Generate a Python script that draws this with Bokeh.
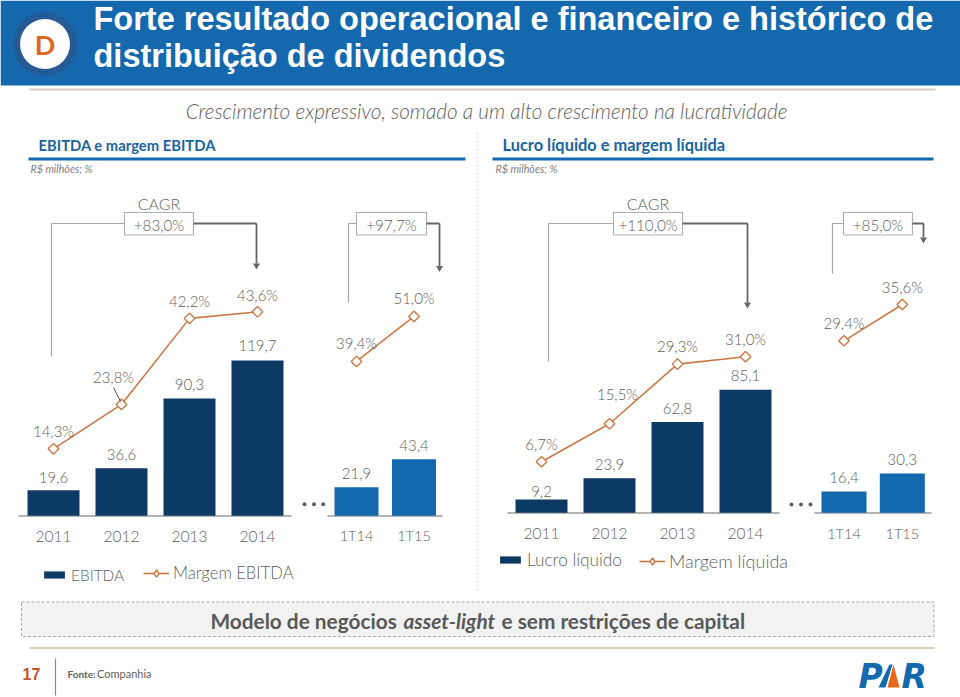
import math
from bokeh.plotting import figure
from bokeh.models import Range1d, ColumnDataSource, Legend, LegendItem
from bokeh.core.properties import value
from bokeh.embed import file_html
from bokeh.resources import INLINE

# ---------- data ----------
years = ["2011", "2012", "2013", "2014"]
quarters = ["1T14", "1T15"]
ebitda = [19.6, 36.6, 90.3, 119.7]
ebitda_margin = [14.3, 23.8, 42.2, 43.6]
ebitda_q = [21.9, 43.4]
ebitda_margin_q = [39.4, 51.0]
lucro = [9.2, 23.9, 62.8, 85.1]
lucro_margin = [6.7, 15.5, 29.3, 31.0]
lucro_q = [16.4, 30.3]
lucro_margin_q = [29.4, 35.6]

TITLE1 = "Forte resultado operacional e financeiro e histórico de"
TITLE2 = "distribuição de dividendos"
SUBTITLE = "Crescimento expressivo, somado a um alto crescimento na lucratividade"

# ---------- style ----------
W, H = 960, 697
FONT = "Lato"
LIGHT = "Lato Light"
GREY = "#5F5F5F"
DARK = "#0C3A64"
BLUE = "#1269AE"
ORANGE = "#CC7A45"
TAN = "#DCCDBB"
GLINE = "#A6A6A6"
DLINE = "#666666"


def comma(v, suffix=""):
    return f"{v:.1f}".replace(".", ",") + suffix


p = figure(width=W, height=H, output_backend="svg", toolbar_location=None,
           x_range=Range1d(0, W), y_range=Range1d(H, 0),
           x_axis_location=None, y_axis_location=None,
           min_border=0, outline_line_color=None, background_fill_color="white",
           border_fill_color="white")
p.grid.visible = False


def txt(x, y, s, size, color=GREY, style="normal", align="left", font=FONT, **kw):
    p.text([x], [y], text=[s], text_font=value(font), text_font_size=f"{size}px",
           text_color=color, text_font_style=style, text_align=align,
           text_baseline="middle", **kw)


def hline(x0, x1, y, color, width=1, dash="solid"):
    p.line([x0, x1], [y, y], line_color=color, line_width=width, line_dash=dash)


def vline(x, y0, y1, color, width=1, dash="solid"):
    p.line([x, x], [y0, y1], line_color=color, line_width=width, line_dash=dash)


# ---------- header ----------
p.quad(left=[0], right=[W], top=[0], bottom=[85], fill_color="#1469AE", line_color=None)
hline(29, 935, 89, TAN, 2)
p.circle([44.5], [43.5], radius=[32], fill_color="#245A96", line_color=None)
p.circle([44.5], [43.5], radius=[25], fill_color="white", line_color=None)
txt(44.5, 44, "D", 27, "#E0661F", "bold", "center")
txt(93, 18.5, TITLE1, 32.5, "white", "bold", font="Liberation Sans")
txt(93, 55, TITLE2, 32.5, "white", "bold", font="Liberation Sans")
txt(486, 110, SUBTITLE, 20.7, GREY, "italic", "center", font=LIGHT)

# ---------- section titles ----------
txt(38, 144, "EBITDA e margem EBITDA", 14.8, "#1A659F", "bold")
txt(502, 144, "Lucro líquido e margem líquida", 16.4, "#1A659F", "bold")
hline(28, 465, 158.5, BLUE, 3)
hline(492, 933, 158.5, BLUE, 3)
txt(30, 168, "R$ milhões; %", 10.7, "#808080", "italic")
txt(495, 168, "R$ milhões; %", 10.7, "#808080", "italic")
vline(477, 132, 590, "#E4E4E4", 2, "2 2")


# ---------- CAGR brackets ----------
def bracket(left_x, left_bottom, box0, box1, right_x, tip, label, cagr=False):
    vline(left_x, 223, left_bottom, GLINE, 1.2)
    hline(left_x, box0, 223, GLINE, 1.2)
    p.quad(left=[box0], right=[box1], top=[212], bottom=[234.5], fill_color="white",
           line_color="#B0B0B0", line_width=1.2)
    hline(box1, right_x, 223, DLINE, 1.8)
    vline(right_x, 223, tip - 5, DLINE, 1.8)
    p.scatter([right_x], [tip - 3], marker="inverted_triangle", size=7,
              fill_color=DLINE, line_color=None)
    txt((box0 + box1) / 2, 224, label, 15.2, GREY, align="center", font=LIGHT)
    if cagr:
        txt((box0 + box1) / 2, 203, "CAGR", 16, GREY, align="center", font=LIGHT)


bracket(51, 356, 124, 193, 256, 268, "+83,0%", True)
bracket(348, 302, 356, 426, 439, 270.5, "+97,7%")
bracket(548, 361, 613, 682, 747, 307, "+110,0%", True)
bracket(832, 273, 843, 912, 923, 242, "+85,0%")


# ---------- chart groups ----------
def add_range(kind, name, start, end):
    if kind == "x":
        p.extra_x_ranges[name] = Range1d(start, end)
    else:
        p.extra_y_ranges[name] = Range1d(start, end)


def group(name, cats, bars, margin, x0, step, bar_w, base, bar_scale, zero, line_scale,
          color, base_x0, base_x1, tick_y, tick_size, bar_dy, line_off):
    xn, yb, yl = f"x_{name}", f"yb_{name}", f"yl_{name}"
    add_range("x", xn, (0 - x0) / step, (W - x0) / step)
    add_range("y", yb, (base - H) / bar_scale, base / bar_scale)
    add_range("y", yl, (zero - H) / line_scale, zero / line_scale)
    idx = list(range(len(cats)))
    src = ColumnDataSource(dict(i=idx, bar=bars, margin=margin, cat=cats,
                                ty=[tick_y] * len(cats),
                                barl=[comma(v) for v in bars],
                                marl=[comma(v, "%") for v in margin],
                                dx=[o[0] for o in line_off], dy=[o[1] for o in line_off],
                                bdy=bar_dy))
    hline(base_x0, base_x1, base + .3, "#999999", 1.5)
    r_bar = p.vbar(x="i", top="bar", bottom=0, width=bar_w / step, source=src,
                   fill_color=color, line_color=None, x_range_name=xn, y_range_name=yb)
    p.text(x="i", y="bar", text="barl", source=src, x_range_name=xn, y_range_name=yb,
           text_font=value(LIGHT), text_font_size="15px", text_color=GREY,
           text_align="center", text_baseline="middle", y_offset="bdy")
    r_line = p.line(x="i", y="margin", source=src, line_color=ORANGE, line_width=1.6,
                    x_range_name=xn, y_range_name=yl)
    p.scatter(x="i", y="margin", source=src, marker="square", angle=math.pi / 4, size=7.5,
              fill_color="white", line_color=ORANGE, line_width=1.4,
              x_range_name=xn, y_range_name=yl)
    p.text(x="i", y="margin", text="marl", source=src, x_range_name=xn, y_range_name=yl,
           text_font=value(LIGHT), text_font_size="15px", text_color=GREY,
           text_align="center", text_baseline="middle", x_offset="dx", y_offset="dy")
    p.text(x="i", y="ty", text="cat", source=src, x_range_name=xn,
           text_font=value(LIGHT), text_font_size=f"{tick_size}px", text_color=GREY,
           text_align="center", text_baseline="middle")
    return r_bar, r_line


l_bar, l_line = group(
    "ea", years, ebitda, ebitda_margin, 53, 68, 52, 515.3, 1.298, 515.2, 4.676, DARK, 18, 291, 536, 15.5,
    [-13, -14, -14, -15], [(0, -18), (-8, -27), (0, -17), (0, -17)])
group("eq", quarters, ebitda_q, ebitda_margin_q, 356, 57.5, 44, 515.3, 1.305, 513.8, 3.88, BLUE, 327, 442, 535, 14.5,
      [-14, -14], [(0, -18), (0, -18)])
r_bar, r_line = group(
    "la", years, lucro, lucro_margin, 541, 68, 52, 512.3, 1.445, 490.2, 4.32, DARK, 507, 779, 533, 15.5,
    [-8, -14, -14, -14], [(0, -18), (8, -30), (0, -18), (0, -18)])
group("lq", quarters, lucro_q, lucro_margin_q, 843.5, 58.3, 45, 512.3, 1.30, 512.3, 5.85, BLUE, 814, 931, 533, 14.5,
      [-14, -14], [(0, -18), (0, -18)])

p.line([113, 120], [387, 401], line_color="#555555", line_width=1)

# continuation dots
p.scatter([304, 313.5, 322.7], [503.7] * 3, marker="circle", size=4, fill_color=GREY, line_color=None)
p.scatter([791, 800.5, 810], [504] * 3, marker="circle", size=4, fill_color=GREY, line_color=None)

# legend key for the margin series: a diamond, drawn only in the legend
legend_mark = p.scatter([-100], [-100], marker="diamond", size=8, fill_color="white",
                        line_color=ORANGE, line_width=1.4)


# ---------- legends ----------
def legend(label, renderers, x, yc, glyph_h, size):
    lg = Legend(items=[LegendItem(label=label, renderers=renderers)], orientation="horizontal",
                location=(x, H - (yc + glyph_h / 2)),
                background_fill_alpha=0, border_line_color=None, padding=0, margin=0,
                glyph_width=26, glyph_height=glyph_h, label_height=glyph_h, label_standoff=4,
                label_text_font=LIGHT, label_text_font_size=f"{size}px", label_text_color=GREY)
    p.add_layout(lg, "center")


legend("EBITDA", [l_bar], 41, 579, 9, 15.4)
legend("Margem EBITDA", [l_line, legend_mark], 143, 574, 18, 16.6)
legend("Lucro líquido", [r_bar], 497, 565.5, 9, 17.2)
legend("Margem líquida", [r_line, legend_mark], 639, 562.5, 18, 18)

# ---------- bottom band ----------
p.quad(left=[21], right=[933.5], top=[601.5], bottom=[636], fill_color="#F2F2F2",
       line_color="#AAAAAA", line_width=1, line_dash="3 2")
txt(210, 620, "Modelo de negócios", 20.8, "#595959", "bold")
txt(403, 620, "asset-light", 20.8, "#595959", "bold italic")
txt(501, 620, "e sem restrições de capital", 20.8, "#595959", "bold")
hline(29, 934, 647.5, TAN, 2)

# ---------- footer ----------
txt(31, 673, "17", 16, "#C5562B", "bold", "center", font="Liberation Sans")
vline(55, 658, 695, "#8C8C8C", 1.2)
txt(67, 673, "Fonte:", 10, GREY, "bold")
txt(96.5, 673, "Companhia", 11, GREY)

# logo
txt(858, 675.5, "P", 33, BLUE, "bold italic", font="DejaVu Sans")
txt(901, 675.5, "R", 33, BLUE, "bold italic", font="DejaVu Sans")
p.patch([878, 889, 892, 885], [687, 664, 664, 687], fill_color=BLUE, line_color=None)
p.patch([887, 899, 893], [687, 687, 664], fill_color="#E8671B", line_color=None)

open("out.html", "w").write(file_html(p, INLINE))
